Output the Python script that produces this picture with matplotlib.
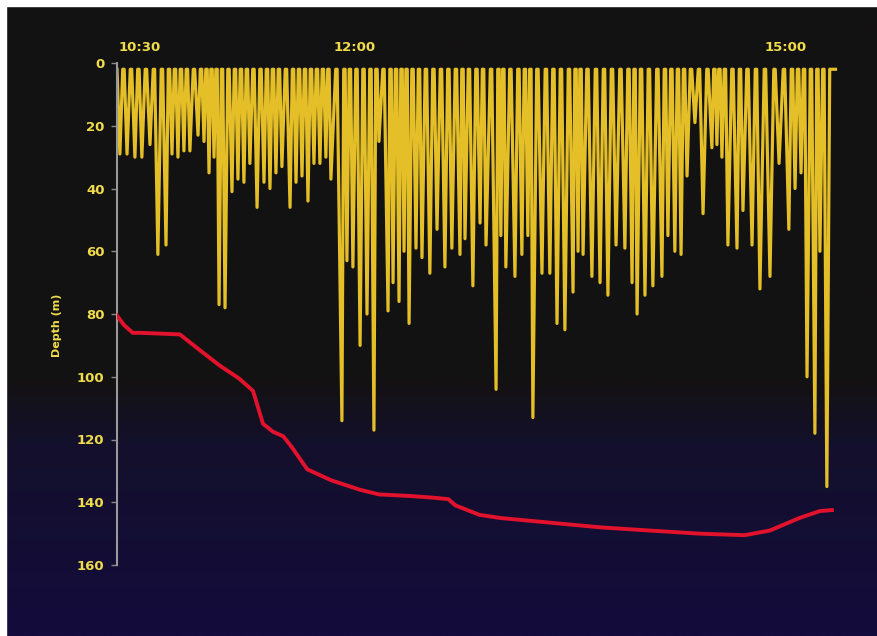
import numpy as np
import matplotlib
matplotlib.use('Agg')
import matplotlib.pyplot as plt
from matplotlib.colors import LinearSegmentedColormap
from matplotlib.patches import Rectangle
import matplotlib.transforms as mtransforms

# Dive bottoms: minutes after 10:30 and depth (m)
dive_times = [-8.4, -5.4, -2.1, 0.8, 4.2, 7.5, 10.9, 13.4, 15.9, 18.4, 20.9, 24.3, 26.8, 28.9,
              31.0, 33.1, 35.6, 38.5, 41.0, 43.5, 46.0, 49.0, 51.9, 54.4, 56.9, 59.4, 62.8,
              65.3, 67.8, 70.3, 72.8, 75.3, 77.8, 79.9, 84.5, 86.6, 89.1, 92.1, 95.0, 97.9,
              100.0, 103.8, 105.9, 108.4, 110.5, 112.6, 115.5, 118.0, 121.3, 124.3, 127.6,
              130.5, 133.9, 136.0, 139.3, 142.3, 144.8, 149.0, 151.0, 153.1, 156.9, 159.8,
              162.3, 164.4, 168.2, 171.5, 174.5, 177.8, 181.2, 183.3, 185.4, 189.1, 192.5,
              195.8, 199.2, 202.9, 205.9, 208.0, 211.3, 214.6, 218.4, 220.9, 223.8, 226.4,
              228.9, 232.2, 235.6, 239.3, 241.4, 243.5, 246.0, 249.8, 252.3, 256.1, 259.4,
              263.6, 267.4, 271.5, 274.1, 276.6, 279.1, 282.4, 284.5, 287.4]
dive_depths = [29, 29, 30, 30, 26, 61, 58, 29, 30, 28, 28, 23, 25, 35,
               30, 77, 78, 41, 37, 38, 32, 46, 38, 40, 35, 33, 46,
               38, 36, 44, 32, 32, 30, 37, 114, 63, 65, 90, 80, 117,
               25, 79, 70, 76, 60, 83, 59, 62, 67, 53, 65,
               59, 61, 56, 71, 51, 58, 104, 55, 65, 68, 61,
               55, 113, 67, 67, 83, 85, 73, 60, 61, 68, 70,
               74, 58, 59, 70, 80, 74, 71, 68, 55, 60, 61,
               36, 19, 48, 27, 26, 30, 58, 59, 47, 58, 72,
               68, 32, 53, 40, 35, 100, 118, 60, 135]

# Red line (minutes after 10:30, depth m)
red_times = [-9.6, -6.7, -3.0, 0.0, 16.7, 25.0, 33.5, 41.4, 47.3, 51.5, 55.6, 60.0, 63.6,
             70.0, 80.0, 92.0, 100.0, 113.0, 122.0, 129.0, 132.0, 142.0, 150.6, 171.5,
             192.5, 213.0, 234.0, 253.0, 263.6, 276.0, 284.5, 289.5]
red_depths = [80.5, 83.5, 86.0, 86.0, 86.5, 91.5, 96.5, 100.5, 104.5, 115.0, 117.5, 119.0,
              122.5, 129.5, 133.0, 136.0, 137.5, 138.0, 138.5, 139.0, 141.0, 144.0, 145.0,
              146.5, 148.0, 149.0, 150.0, 150.5, 149.0, 145.0, 142.8, 142.5]

time_ticks = [0, 90, 270]
time_labels = ['10:30', '12:00', '15:00']
depth_ticks = [0, 20, 40, 60, 80, 100, 120, 140, 160]

surface = 2.0

# build the zigzag dive trace: surface between neighbouring dives
t_arr = np.array(dive_times)
mids = (t_arr[:-1] + t_arr[1:]) / 2
prof_t = [-9.6]
prof_d = [surface]
for i, (t, d) in enumerate(zip(dive_times, dive_depths)):
    prof_t.append(t)
    prof_d.append(d)
    if i < len(mids):
        prof_t += [mids[i] - 0.3, mids[i] + 0.3]
        prof_d += [surface, surface]
prof_t += [dive_times[-1] + 1.2, 291]
prof_d += [surface, surface]

yellow = '#f0dc4a'

fig = plt.figure(figsize=(8.78, 6.36), dpi=100, facecolor='#130c3c')

# background gradient: black top, dark navy bottom
bg = fig.add_axes([0, 0, 1, 1])
bg.set_axis_off()
cmap = LinearSegmentedColormap.from_list('bg', [(0, '#131212'), (0.60, '#131212'),
                                                (0.70, '#14102c'), (1.0, '#130c3c')])
grad = np.linspace(0, 1, 300).reshape(-1, 1)
bg.imshow(grad, aspect='auto', cmap=cmap, extent=[0, 1, 0, 1], origin='upper')
bg.set_xlim(0, 1)
bg.set_ylim(0, 1)

# white photo border top and left
fig.patches.append(Rectangle((0, 1 - 6 / 636), 1, 6 / 636, transform=fig.transFigure,
                             color='white', zorder=5))
fig.patches.append(Rectangle((0, 0), 6 / 878, 1, transform=fig.transFigure,
                             color='white', zorder=5))

ax = fig.add_axes([117 / 878, 1 - 565 / 636, 723 / 878, 502 / 636])
ax.set_facecolor('none')
ax.plot(prof_t, prof_d, color='#e4bf28', lw=2.3, solid_joinstyle='round', zorder=2)
ax.plot(red_times, red_depths, color='#e3122c', lw=2.8, zorder=3)

ax.set_xlim(-9.6, 292.9)
ax.set_ylim(160, 0)

for s in ['top', 'right', 'bottom']:
    ax.spines[s].set_visible(False)
ax.spines['left'].set_color('#9a9898')
ax.spines['left'].set_linewidth(1.5)

ax.set_yticks(depth_ticks)
ax.set_yticklabels([str(v) for v in depth_ticks], color=yellow, fontsize=9.5,
                   fontweight='bold')
ax.tick_params(axis='y', direction='out', length=4, width=1, color='#8a8888', pad=5)
ax.set_xticks([])

trans = mtransforms.blended_transform_factory(ax.transData, ax.transAxes)
for t, lab in zip(time_ticks, time_labels):
    ax.text(t, 1.03, lab, transform=trans, ha='center', va='center', color=yellow,
            fontsize=9.5, fontweight='bold')

fig.text(57 / 878, 1 - 325 / 636, 'Depth (m)', rotation=90, ha='center', va='center',
         color=yellow, fontsize=8, fontweight='bold')

fig.savefig('out.png', dpi=100, facecolor=fig.get_facecolor())
